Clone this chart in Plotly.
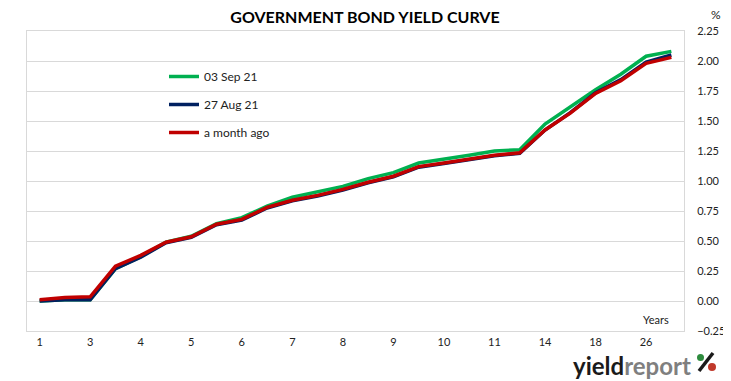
import plotly.graph_objects as go

# ---- data ----
tenors = ["1", "2", "3", "3.5", "4", "4.5", "5", "5.5", "6", "6.5", "7", "7.5", "8",
          "8.5", "9", "9.5", "10", "10.5", "11", "12", "14", "16", "18", "22", "26", "30"]
tick_labels = ["1", "3", "4", "5", "6", "7", "8", "9", "10", "11", "14", "18", "26"]
tick_positions = ["1", "3", "4", "5", "6", "7", "8", "9", "10", "11", "14", "18", "26"]

sep03 = [0.00, 0.01, 0.01, 0.27, 0.37, 0.49, 0.54, 0.645, 0.695, 0.79, 0.865, 0.91, 0.955,
         1.02, 1.07, 1.15, 1.18, 1.215, 1.25, 1.26, 1.475, 1.62, 1.76, 1.89, 2.04, 2.08]
aug27 = [0.00, 0.01, 0.01, 0.27, 0.365, 0.485, 0.53, 0.635, 0.675, 0.775, 0.835, 0.875, 0.925,
         0.985, 1.035, 1.115, 1.145, 1.175, 1.21, 1.23, 1.425, 1.57, 1.735, 1.845, 1.99, 2.05]
month_ago = [0.01, 0.03, 0.035, 0.29, 0.38, 0.49, 0.535, 0.64, 0.68, 0.78, 0.84, 0.88, 0.93,
             0.99, 1.04, 1.12, 1.15, 1.18, 1.215, 1.235, 1.425, 1.565, 1.73, 1.835, 1.98, 2.03]

series = [("03 Sep 21", sep03, "#00B050"),
          ("27 Aug 21", aug27, "#002060"),
          ("a month ago", month_ago, "#C00000")]

FONT = "Lato"
OFF = 8  # page body margin
W, H = 731 - OFF, 381 - OFF
L, T = 27 - OFF, 31 - OFF
R = W - (684 - OFF)
B = H - (331 - OFF)


def px(x):
    return (x - OFF - L) / (W - L - R)


def py(y):
    return (H - B - (y - OFF)) / (H - T - B)


fig = go.Figure()
for i, (name, vals, col) in enumerate(series):
    fig.add_trace(go.Scatter(
        x=tenors, y=vals, name=name, mode="lines",
        line=dict(color=col, width=3.5),
        legendgroup=f"g{i}",
    ))

fig.update_layout(
    width=W, height=H,
    margin=dict(l=L, r=R, t=T, b=B, autoexpand=False),
    paper_bgcolor="white", plot_bgcolor="white",
    font=dict(family=FONT, size=12, color="#222222"),
    title=dict(text="<b>GOVERNMENT BOND YIELD CURVE</b>", x=(365 - OFF) / W, xanchor="center",
               y=1 - (17 - OFF) / H, yanchor="middle",
               font=dict(size=16, color="#000000", family=FONT)),
    showlegend=True,
    legend=dict(x=px(164), y=py(62), xanchor="left", yanchor="top",
                bgcolor="rgba(0,0,0,0)", traceorder="grouped", tracegroupgap=9,
                font=dict(size=12, color="#222222", family=FONT), itemwidth=30),
    xaxis=dict(type="category", categoryorder="array", categoryarray=tenors,
               range=[-0.5, len(tenors) - 0.5],
               tickmode="array", tickvals=tick_positions, ticktext=tick_labels,
               showgrid=False, showline=True, linecolor="#D9D9D9", linewidth=1,
               mirror=True, ticks="", ticklabelstandoff=1,
               tickfont=dict(size=11, color="#222222"), zeroline=False),
    yaxis=dict(side="right", range=[-0.25, 2.25], dtick=0.25, tick0=0, tickformat=".2f",
               showgrid=True, gridcolor="#D9D9D9", gridwidth=1,
               showline=True, linecolor="#D9D9D9", linewidth=1, mirror=True,
               ticks="", ticklabelstandoff=10, tickfont=dict(size=11, color="#222222"), zeroline=False),
)

fig.add_annotation(text="%", x=px(716), y=py(14), xref="paper", yref="paper",
                   xanchor="center", yanchor="middle",
                   showarrow=False, font=dict(size=12, color="#222222", family=FONT))
fig.add_annotation(text="Years", x=px(656), y=py(319), xref="paper", yref="paper",
                   xanchor="center", yanchor="middle",
                   showarrow=False, font=dict(size=11, color="#222222", family=FONT))
fig.add_annotation(text="<b>yield</b><b><span style='color:#7F7F7F'>report</span></b>",
                   x=px(693), y=py(365), xref="paper", yref="paper",
                   xanchor="right", yanchor="middle",
                   showarrow=False, font=dict(size=24, color="#1A1A1A", family=FONT))
# percent sign logo
fig.add_shape(type="line", xref="paper", yref="paper",
              x0=px(699), y0=py(371), x1=px(713), y1=py(353),
              line=dict(color="#1A1A1A", width=3.5))
fig.add_shape(type="circle", xref="paper", yref="paper",
              x0=px(697), y0=py(361), x1=px(704), y1=py(354),
              fillcolor="#2E8B3E", line=dict(width=0))
fig.add_shape(type="circle", xref="paper", yref="paper",
              x0=px(708), y0=py(371), x1=px(716), y1=py(363),
              fillcolor="#C0392B", line=dict(width=0))

fig.write_html("out.html")
